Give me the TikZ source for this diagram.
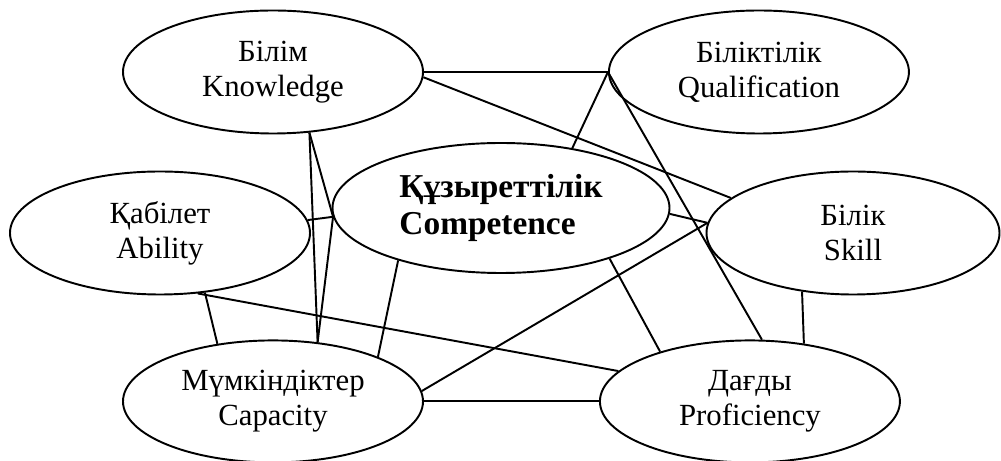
\documentclass[tikz,border=0pt]{standalone}
\usepackage{fontspec}
\setmainfont{Liberation Serif}
\usetikzlibrary{positioning,shapes.geometric}

\begin{document}
\begin{tikzpicture}[line width=1.1pt,
    concept/.style={draw, ellipse, inner sep=0pt, minimum width=6cm, minimum height=2.46cm,
        align=center, font=\fontsize{17.5}{20}\selectfont}]
    \useasboundingbox (0,0) rectangle (20.02,-9.22);

    \node[concept] (know) at (5.46,-1.44) {Білім\\Knowledge};
    \node[concept, right=3.68cm of know] (qual) {Біліктілік\\Qualification};
    \node[concept] (abil) at (3.2,-4.66) {Қабілет\\Ability};
    \node[concept, minimum width=6.74cm, minimum height=2.6cm, align=left,
        font=\fontsize{19}{21.5}\selectfont\bfseries] (comp) at (10.02,-4.16) {Құзыреттілік\\Competence};
    \node[concept, minimum width=5.86cm] (skill) at (17.06,-4.66) {Білік\\Skill};
    \node[concept, minimum height=2.44cm, below=4.1cm of know] (capa) {Мүмкіндіктер\\Capacity};
    \node[concept, minimum height=2.44cm, right=3.5cm of capa] (prof) {Дағды\\Proficiency};

    \draw (know.east) -- (qual.west);
    \draw (know.-2) -- (skill.164);
    \draw (qual.west) -- (comp.40);
    \draw (qual.west) -- (prof.79);
    \draw (know.-59) -- (capa.53);
    \draw (know.-59) -- (comp.183);
    \draw (abil.5) -- (comp.183);
    \draw (comp.183) -- (capa.53);
    \draw (abil.-53) -- (capa.134);
    \draw (abil.-58) -- (prof.167);
    \draw (comp.207) -- (capa.23);
    \draw (capa.4) -- (skill.176);
    \draw (capa.east) -- (prof.west);
    \draw (comp.-2) -- (skill.176);
    \draw (comp.-25) -- (prof.151);
    \draw (skill.-131) -- (prof.47);
\end{tikzpicture}
\end{document}
